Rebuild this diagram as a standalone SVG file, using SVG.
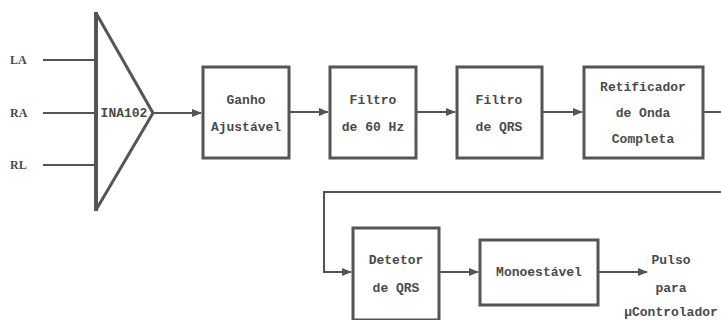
<svg xmlns="http://www.w3.org/2000/svg" width="721" height="320" viewBox="0 0 721 320">
<defs>
<style>
.box{fill:none;stroke:#555;stroke-width:3}
.ln{fill:none;stroke:#555;stroke-width:2}
.t{font-family:"Liberation Mono",monospace;font-weight:bold;font-size:13px;fill:#4a4a4a;text-anchor:middle}
.lab{font-family:"Liberation Serif",serif;font-weight:bold;font-size:12px;fill:#4a4a4a}
</style>
<marker id="ah" markerWidth="10" markerHeight="10" refX="9" refY="5" orient="auto" markerUnits="userSpaceOnUse">
<path d="M0,1 L10,5 L0,9 Z" fill="#555"/>
</marker>
</defs>
<rect width="721" height="320" fill="#fff"/>
<g id="inputs">
<text class="lab" x="10" y="64">LA</text>
<text class="lab" x="10" y="117">RA</text>
<text class="lab" x="10" y="169">RL</text>
</g>
<g id="amp">
<path d="M96,13 L153,113 L96,210" fill="none" stroke="#555" stroke-width="3"/>
<line x1="96" y1="12" x2="96" y2="211" stroke="#555" stroke-width="4"/>
<text class="t" x="124" y="117" font-size="12">INA102</text>
</g>
<g id="ganho">
<rect class="box" x="203" y="67" width="86" height="91"/>
<text class="t" x="246" y="104">Ganho</text>
<text class="t" x="246" y="131">Ajustável</text>
</g>
<g id="filtro60">
<rect class="box" x="330" y="67" width="86" height="91"/>
<text class="t" x="373" y="104">Filtro</text>
<text class="t" x="373" y="131">de 60 Hz</text>
</g>
<g id="filtroqrs">
<rect class="box" x="457" y="67" width="85" height="91"/>
<text class="t" x="499" y="104">Filtro</text>
<text class="t" x="499" y="131">de QRS</text>
</g>
<g id="retificador">
<rect class="box" x="584" y="67" width="119" height="91"/>
<text class="t" x="643" y="91">Retificador</text>
<text class="t" x="643" y="117">de Onda</text>
<text class="t" x="643" y="143">Completa</text>
</g>
<g id="detetor">
<rect class="box" x="353" y="228" width="86" height="92"/>
<text class="t" x="396" y="264">Detetor</text>
<text class="t" x="396" y="292">de QRS</text>
</g>
<g id="mono">
<rect class="box" x="480" y="240" width="118" height="65"/>
<text class="t" x="539" y="276">Monoestável</text>
</g>
<g id="saida">
<text class="t" x="671" y="264">Pulso</text>
<text class="t" x="671" y="292">para</text>
<text class="t" x="671" y="316">μControlador</text>
</g>
<g id="connectors">
<line class="ln" x1="43" y1="60" x2="95" y2="60"/>
<line class="ln" x1="43" y1="113" x2="95" y2="113"/>
<line class="ln" x1="43" y1="165" x2="95" y2="165"/>
<line class="ln" x1="153" y1="113" x2="201" y2="113" marker-end="url(#ah)"/>
<line class="ln" x1="290" y1="112" x2="328" y2="112" marker-end="url(#ah)"/>
<line class="ln" x1="417" y1="112" x2="455" y2="112" marker-end="url(#ah)"/>
<line class="ln" x1="543" y1="112" x2="582" y2="112" marker-end="url(#ah)"/>
<line class="ln" x1="704" y1="112" x2="721" y2="112"/>
<polyline class="ln" points="721,192 324,192 324,272 351,272" marker-end="url(#ah)"/>
<line class="ln" x1="440" y1="272" x2="478" y2="272" marker-end="url(#ah)"/>
<line class="ln" x1="599" y1="272" x2="647" y2="272" marker-end="url(#ah)"/>
</g>
</svg>
